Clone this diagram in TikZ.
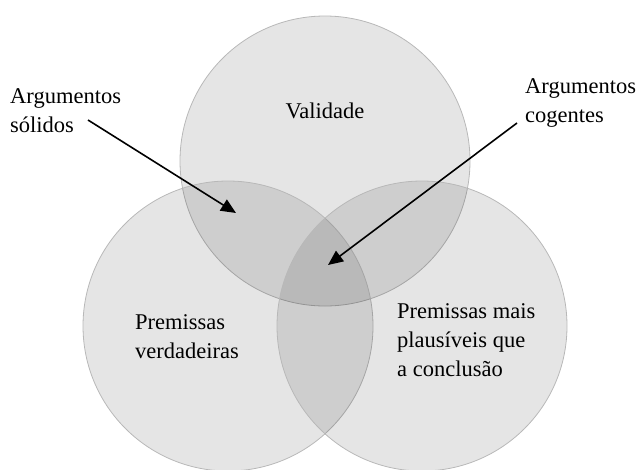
\documentclass[tikz,border=0pt]{standalone}
\usepackage{fontspec}
\setmainfont{Liberation Serif}
\usetikzlibrary{arrows.meta}

\begin{document}
\begin{tikzpicture}[x=1pt,y=-1pt]
	\tikzstyle{venn}=[draw=black!28, line width=0.8pt, fill=black, fill opacity=0.1, shape=circle, minimum size=290pt, inner sep=0pt];
	\tikzstyle{lbl}=[inner sep=0pt, align=left, anchor=base west, font=\fontsize{22.5}{29}\selectfont];
	\tikzstyle{pointer}=[-{Triangle[length=15pt,width=13pt]}, line width=1.6pt];
	\useasboundingbox (0,0) rectangle (637,469);
	% the three circles
	\node [venn] (valid) at (325,161) {};
	\node [venn] (verd) at (228,326) {};
	\node [venn] (plaus) at (422,326) {};
	% labels (base = last line)
	\node [lbl, anchor=base] (validade) at (325,118) {Validade};
	\node [lbl] (premv) at (135,358) {Premissas\\verdadeiras};
	\node [lbl] (premp) at (397,376) {Premissas mais\\plaus\'iveis que\\a conclus\~ao};
	\node [lbl] (solidos) at (10,132) {Argumentos\\s\'olidos};
	\node [lbl] (cogentes) at (525,122) {Argumentos\\cogentes};
	% arrows
	\coordinate (solStart) at (88,120);
	\coordinate (solTip) at (236,213);
	\coordinate (cogStart) at (517,123);
	\coordinate (cogTip) at (328,265);
	\draw [pointer] (solStart) -- (solTip);
	\draw [pointer] (cogStart) -- (cogTip);
\end{tikzpicture}
\end{document}
